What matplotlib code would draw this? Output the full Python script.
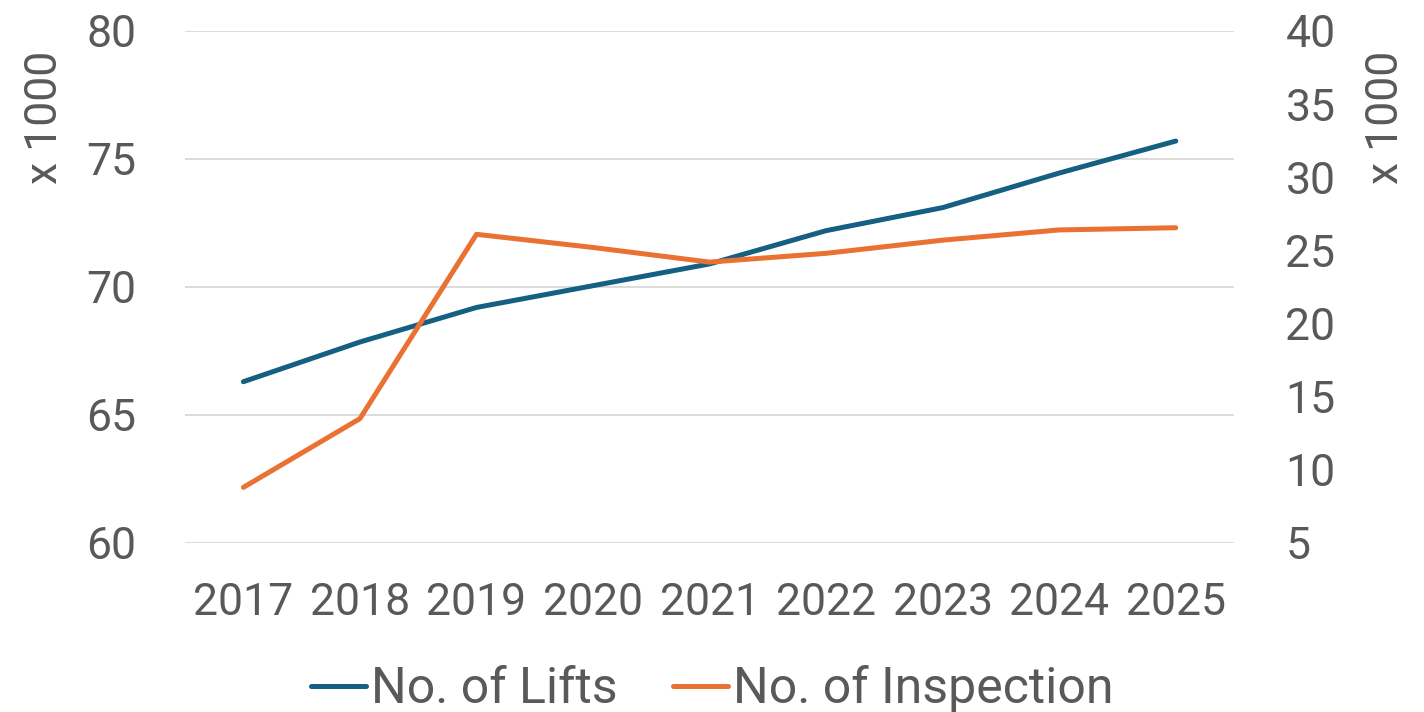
import matplotlib.pyplot as plt

plt.rcParams['font.family'] = ['Roboto', 'DejaVu Sans']

years = ['2017', '2018', '2019', '2020', '2021', '2022', '2023', '2024', '2025']
lifts = [66.3, 67.85, 69.2, 70.05, 70.9, 72.2, 73.1, 74.45, 75.7]
inspections = [8.8, 13.5, 26.1, 25.2, 24.2, 24.8, 25.7, 26.4, 26.55]

blue = '#156082'
orange = '#E97132'
grey = '#595959'

fig = plt.figure(figsize=(14.24, 7.12), dpi=100)
ax = fig.add_axes([0.13, 0.2374, 0.7366, 0.7191])
ax2 = ax.twinx()

x = range(len(years))
l1, = ax.plot(x, lifts, color=blue, lw=3.6, solid_capstyle='round', solid_joinstyle='round',
              label='No. of Lifts')
l2, = ax2.plot(x, inspections, color=orange, lw=3.6, solid_capstyle='round',
               solid_joinstyle='round', label='No. of Inspection')

ax.set_xlim(-0.5, len(years) - 0.5)
ax.set_ylim(60, 80)
ax.set_yticks([60, 65, 70, 75, 80])
ax2.set_ylim(5, 40)
ax2.set_yticks(range(5, 41, 5))
ax.set_xticks(list(x))
ax.set_xticklabels(years)

ax.grid(axis='y', color='#D9D9D9', lw=1.3)
ax.set_axisbelow(True)
for a in (ax, ax2):
    for s in a.spines.values():
        s.set_visible(False)
ax.tick_params(axis='y', length=0, pad=35, labelsize=32, labelcolor=grey)
ax.tick_params(axis='x', length=0, pad=28, labelsize=32, labelcolor=grey)
ax2.tick_params(axis='y', length=0, pad=37, labelsize=32, labelcolor=grey)

fig.text(0.0316, 0.835, 'x 1000', rotation=90, ha='center', va='center', fontsize=32, color=grey)
fig.text(0.973, 0.835, 'x 1000', rotation=90, ha='center', va='center', fontsize=32, color=grey)

fig.legend(handles=[l1, l2], loc='center', bbox_to_anchor=(0.5, 0.032), ncol=2, frameon=False,
           fontsize=36, labelcolor=grey, handlelength=1.1, handletextpad=0.1, columnspacing=1.1)

fig.savefig('out.png', dpi=100)
